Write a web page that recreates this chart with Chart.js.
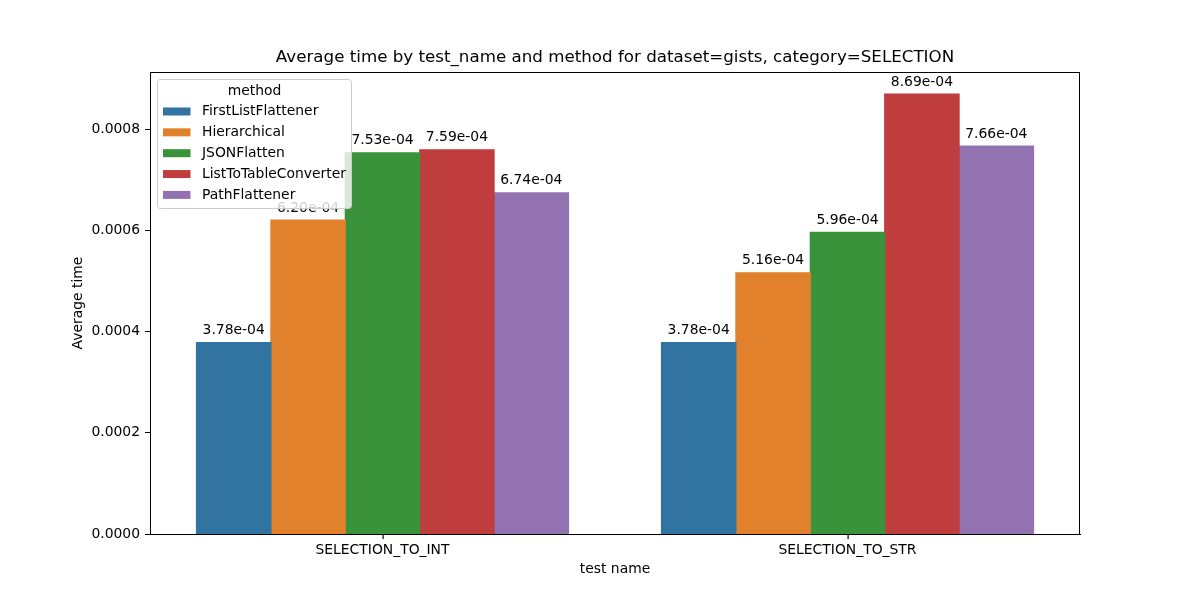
<!DOCTYPE html>
<html>
<head>
<meta charset="utf-8">
<script src="https://cdn.jsdelivr.net/npm/chart.js@4.4.1/dist/chart.umd.min.js"></script>
<style>
  html, body { margin: 0; padding: 0; background: #fff; }
  #wrap { width: 1200px; height: 600px; }
</style>
</head>
<body>
<div id="wrap"><canvas id="myChart" width="1200" height="600"></canvas></div>
<script>
const categories = ['SELECTION_TO_INT', 'SELECTION_TO_STR'];
const methods = ['FirstListFlattener', 'Hierarchical', 'JSONFlatten', 'ListToTableConverter', 'PathFlattener'];
const firstListFlattener = [3.78e-4, 3.78e-4];
const hierarchical = [6.20e-4, 5.16e-4];
const jsonFlatten = [7.53e-4, 5.96e-4];
const listToTableConverter = [7.59e-4, 8.69e-4];
const pathFlattener = [6.74e-4, 7.66e-4];
const yTicks = [0, 0.0002, 0.0004, 0.0006, 0.0008];

const colors = ['#3274a1', '#e1812c', '#3a923a', '#c03d3e', '#9372b2'];
const series = [firstListFlattener, hierarchical, jsonFlatten, listToTableConverter, pathFlattener];
const FONT = 'DejaVu Sans';

function fmtExp(v) {
    return v.toExponential(2).replace(/e([+-])(\d)$/, 'e$10$2');
}

// value labels above bars
const barLabels = {
    id: 'barLabels',
    afterDatasetsDraw(chart) {
        const c = chart.ctx;
        c.save();
        c.font = '13.9px "' + FONT + '"';
        c.fillStyle = '#000';
        c.textAlign = 'center';
        c.textBaseline = 'middle';
        chart.data.datasets.forEach((ds, i) => {
            chart.getDatasetMeta(i).data.forEach((bar, j) => {
                c.fillText(fmtExp(ds.data[j]), bar.x, bar.y - 12);
            });
        });
        c.restore();
    }
};

// frame, x tick marks, titles and matplotlib-like legend
const decor = {
    id: 'decor',
    afterDraw(chart) {
        const c = chart.ctx;
        const a = chart.chartArea;
        c.save();
        c.strokeStyle = '#000';
        c.lineWidth = 1;
        c.strokeRect(a.left + 0.5, a.top + 0.5, a.right - a.left - 1, a.bottom - a.top);

        // x tick marks at the centre of each group
        const first = chart.getDatasetMeta(0).data;
        const last = chart.getDatasetMeta(methods.length - 1).data;
        c.fillStyle = '#000';
        categories.forEach((cat, i) => {
            const px = Math.round((first[i].x + last[i].x) / 2);
            c.fillRect(px - 0.5, a.bottom, 1.2, 5);
        });

        c.textAlign = 'center';
        c.textBaseline = 'middle';
        c.font = '16.7px "' + FONT + '"';
        c.fillText('Average time by test_name and method for dataset=gists, category=SELECTION', (a.left + a.right) / 2, 58);

        c.font = '13.9px "' + FONT + '"';
        c.fillText('test name', (a.left + a.right) / 2, 569);
        c.save();
        c.translate(78, (a.top + a.bottom) / 2);
        c.rotate(-Math.PI / 2);
        c.fillText('Average time', 0, 0);
        c.restore();

        // legend box
        const lx = 157.5, ly = 79.5, lw = 194, lh = 129;
        c.beginPath();
        c.roundRect(lx, ly, lw, lh, 3);
        c.fillStyle = 'rgba(255,255,255,0.8)';
        c.fill();
        c.strokeStyle = '#cccccc';
        c.stroke();

        c.fillStyle = '#000';
        c.textAlign = 'center';
        c.fillText('method', lx + lw / 2, 91);
        c.textAlign = 'left';
        methods.forEach((m, i) => {
            const cy = 111.5 + i * 20.85;
            c.fillStyle = colors[i];
            c.fillRect(163, cy - 4, 27.5, 8);
            c.fillStyle = '#000';
            c.fillText(m, 202, cy);
        });
        c.restore();
    }
};

const ctx = document.getElementById('myChart').getContext('2d');
const myChart = new Chart(ctx, {
    type: 'bar',
    data: {
        labels: categories,
        datasets: methods.map((m, i) => ({
            label: m,
            data: series[i],
            backgroundColor: colors[i],
            borderWidth: 0,
            inflateAmount: 0.6,
            categoryPercentage: 0.8,
            barPercentage: 1.0
        }))
    },
    options: {
        responsive: false,
        animation: false,
        events: [],
        layout: { padding: { top: 72, right: 120, left: 0, bottom: 0 } },
        plugins: {
            legend: { display: false },
            tooltip: { enabled: false },
            title: { display: false }
        },
        scales: {
            x: {
                grid: { display: false },
                border: { display: true, color: '#000' },
                ticks: {
                    color: '#000',
                    padding: 0,
                    font: { family: FONT, size: 13.9 },
                    maxRotation: 0
                },
                afterFit(scale) { scale.height = 66; }
            },
            y: {
                min: 0,
                max: 0.0009126,
                afterBuildTicks(scale) { scale.ticks = yTicks.map(v => ({ value: v })); },
                grid: { drawOnChartArea: false, drawTicks: true, tickLength: 5, color: '#000' },
                border: { display: true, color: '#000' },
                ticks: {
                    color: '#000',
                    padding: 5,
                    font: { family: FONT, size: 13.9 },
                    callback: v => v.toFixed(4)
                },
                afterFit(scale) { scale.width = 150; }
            }
        }
    },
    plugins: [barLabels, decor]
});
</script>
</body>
</html>
